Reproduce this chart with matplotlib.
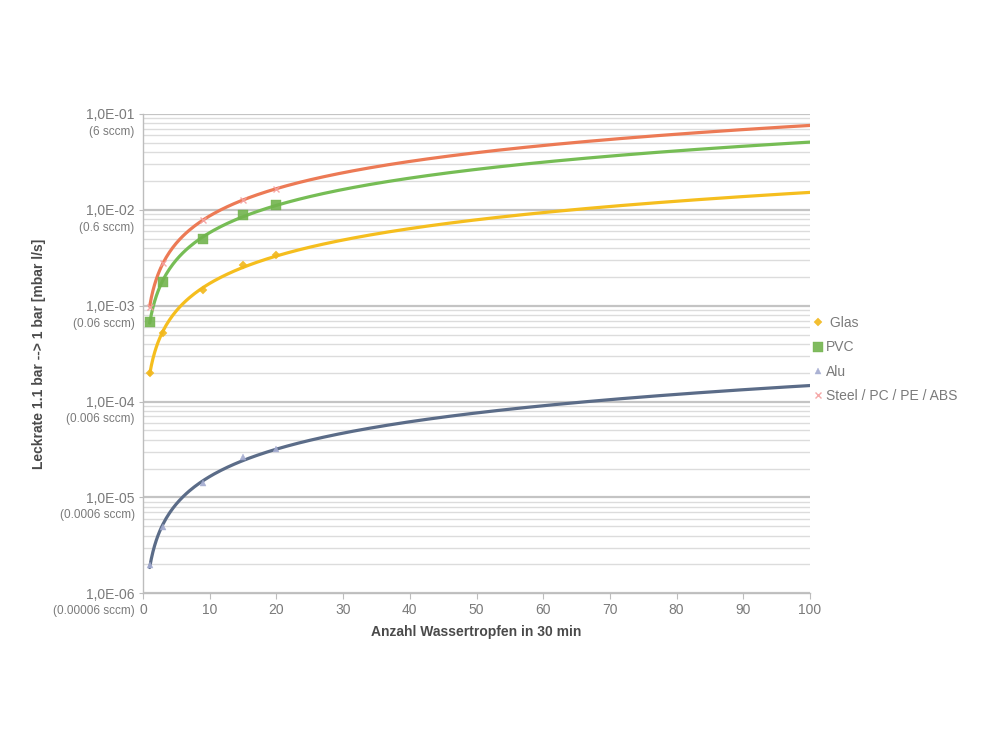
import numpy as np
import matplotlib
matplotlib.use("Agg")
import matplotlib.pyplot as plt
from matplotlib.ticker import FixedLocator, NullFormatter, LogLocator

plt.rcParams['font.family'] = ['Liberation Sans', 'DejaVu Sans']

# ---- data ----
drops = [1, 3, 9, 15, 20]
glas = [2.0e-4, 5.2e-4, 1.45e-3, 2.65e-3, 3.35e-3]
pvc = [6.8e-4, 1.78e-3, 5.0e-3, 8.9e-3, 1.12e-2]
alu = [1.96e-6, 4.9e-6, 1.4e-5, 2.62e-5, 3.2e-5]
steel = [9.8e-4, 2.8e-3, 7.8e-3, 1.28e-2, 1.65e-2]

series_names = ["Glas", "PVC", "Alu", "Steel / PC / PE / ABS"]
legend_labels = [" Glas", "PVC", "Alu", "Steel / PC / PE / ABS"]
x_ticks = [0, 10, 20, 30, 40, 50, 60, 70, 80, 90, 100]
y_ticks = [1e-6, 1e-5, 1e-4, 1e-3, 1e-2, 1e-1]
y_tick_labels = ["1,0E-06", "1,0E-05", "1,0E-04", "1,0E-03", "1,0E-02", "1,0E-01"]
y_sccm_labels = ["(0.00006 sccm)", "(0.0006 sccm)", "(0.006 sccm)", "(0.06 sccm)", "(0.6 sccm)", "(6 sccm)"]
x_label = "Anzahl Wassertropfen in 30 min"
y_label = "Leckrate 1.1 bar --> 1 bar [mbar l/s]"

# ---- styling ----
line_cols = {"Glas": "#F5BE1E", "PVC": "#76BD55", "Alu": "#5B6C88", "Steel / PC / PE / ABS": "#EC7A55"}
mark_cols = {"Glas": "#F2B81C", "PVC": "#72B44E", "Alu": "#A3ABD0", "Steel / PC / PE / ABS": "#F4A0A0"}
markers = {"Glas": "D", "PVC": "s", "Alu": "^", "Steel / PC / PE / ABS": "x"}
msizes = {"Glas": 4, "PVC": 7, "Alu": 4.5, "Steel / PC / PE / ABS": 5}
data = {"Glas": glas, "PVC": pvc, "Alu": alu, "Steel / PC / PE / ABS": steel}

fig = plt.figure(figsize=(10, 7.5), dpi=100)
ax = fig.add_axes([0.143, 0.209, 0.667, 0.639])

xs = np.array(drops, dtype=float)
xfit = np.linspace(1, 100, 400)
handles = []
draw_order = ["Alu", "Glas", "PVC", "Steel / PC / PE / ABS"]
for name in draw_order:
    ys = np.array(data[name])
    b, a = np.polyfit(np.log(xs), np.log(ys), 1)
    ax.plot(xfit, np.exp(a) * xfit ** b, color=line_cols[name], lw=2.3, zorder=3,
            solid_capstyle='round')
for name in series_names:
    h = ax.plot(drops, data[name], linestyle='none', marker=markers[name],
                color=mark_cols[name], markersize=msizes[name], alpha=0.9,
                markeredgewidth=1.0 if markers[name] == 'x' else 0.3, zorder=4, label=name)[0]
    handles.append(h)

ax.set_yscale('log')
ax.set_xlim(0, 100)
ax.set_ylim(1e-6, 1e-1)

ax.set_xticks(x_ticks)
ax.set_xticklabels([str(t) for t in x_ticks])
ax.yaxis.set_major_locator(FixedLocator(y_ticks))
ax.set_yticklabels(y_tick_labels)
ax.yaxis.set_minor_locator(LogLocator(base=10, subs=np.arange(2, 10)))
ax.yaxis.set_minor_formatter(NullFormatter())

ax.grid(True, which='major', axis='y', color='#c4c4c4', lw=1.6, zorder=0)
ax.grid(True, which='minor', axis='y', color='#dcdcdc', lw=1.0, zorder=0)
ax.grid(False, axis='x')

for s in ['top', 'right']:
    ax.spines[s].set_visible(False)
ax.spines['left'].set_color('#bdbdbd')
ax.spines['bottom'].set_color('#bdbdbd')
ax.spines['left'].set_linewidth(1.0)
ax.spines['bottom'].set_linewidth(1.0)

ax.tick_params(axis='x', colors='#bdbdbd', labelcolor='#7a7a7a', labelsize=10, length=4, pad=3)
ax.tick_params(axis='y', which='major', colors='#bdbdbd', labelcolor='#7a7a7a', labelsize=10,
               length=3, pad=3)
ax.tick_params(axis='y', which='minor', length=0)

for yv, s in zip(y_ticks, y_sccm_labels):
    ax.annotate(s, xy=(0, yv), xycoords=('axes fraction', 'data'),
                xytext=(-6, -8.5), textcoords='offset points',
                ha='right', va='top', fontsize=8.5, color='#7a7a7a')

ax.set_xlabel(x_label, fontsize=10, fontweight='bold', color='#4a4a4a', labelpad=6)
ax.set_ylabel(y_label, fontsize=10, fontweight='bold', color='#4a4a4a')
ax.yaxis.set_label_coords(-0.145, 0.5)

leg = fig.legend(handles=handles, labels=legend_labels, loc='upper left',
                 bbox_to_anchor=(0.808, 0.586), frameon=False, fontsize=10,
                 handlelength=0.6, handletextpad=0.3, labelspacing=0.75,
                 borderaxespad=0)
for t in leg.get_texts():
    t.set_color('#7a7a7a')

fig.savefig('out.png', dpi=100)
